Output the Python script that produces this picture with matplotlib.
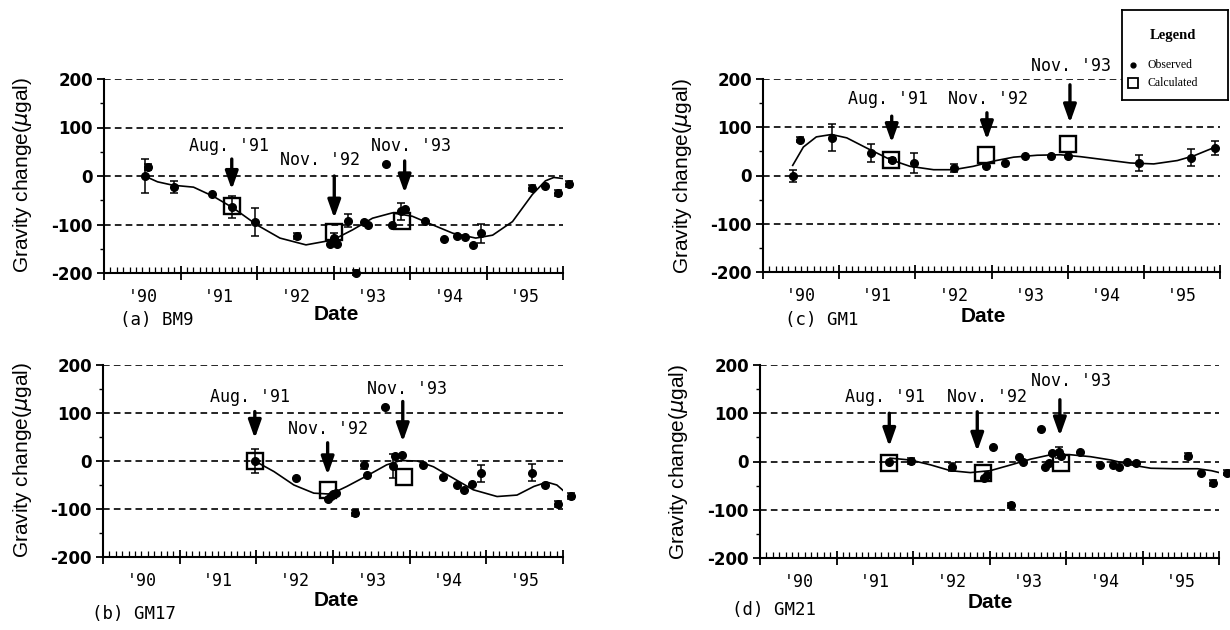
import numpy as np
import matplotlib
matplotlib.use("Agg")
import matplotlib.pyplot as plt
from matplotlib.ticker import MultipleLocator

plt.rcParams["axes.unicode_minus"] = False

W, H = 1230, 630

YEAR_STARTS = [1990, 1991, 1992, 1993, 1994, 1995]
YEAR_LABELS = ["'90", "'91", "'92", "'93", "'94", "'95"]
EVENT_LABELS = ["Aug. '91", "Nov. '92", "Nov. '93"]
Y_TICKS = [-200, -100, 0, 100, 200]
Y_TICK_LABELS = ["-200", "-100", "0", "100", "200"]

# (a) BM9
a_obs_x = [1990.53, 1990.58, 1990.91, 1991.41, 1991.67, 1991.98, 1992.52, 1992.95, 1993.00,
           1993.04, 1993.19, 1993.30, 1993.40, 1993.45, 1993.68, 1993.77, 1993.88, 1993.93,
           1994.20, 1994.45, 1994.62, 1994.72, 1994.82, 1994.93, 1995.60, 1995.77, 1995.93, 1996.08]
a_obs_y = [0, 19, -23, -38, -64, -95, -124, -140, -127, -140, -92, -199, -94, -100, 24, -100,
           -73, -69, -92, -130, -123, -126, -142, -118, -24, -21, -35, -17]
a_obs_err = [35, 6, 13, 0, 23, 28, 6, 0, 10, 0, 14, 5, 0, 0, 0, 0, 17, 0, 0, 0, 0, 0, 0, 20,
             6, 0, 6, 6]
a_calc_x = [1991.67, 1993.01, 1993.90]
a_calc_y = [-62, -115, -92]
a_fit_x = [1990.53, 1990.70, 1990.90, 1991.17, 1991.43, 1991.69, 1992.00, 1992.30, 1992.64,
           1992.99, 1993.25, 1993.51, 1993.77, 1994.03, 1994.30, 1994.56, 1994.86, 1995.08,
           1995.34, 1995.60, 1995.77, 1995.88, 1995.99]
a_fit_y = [0, -12, -19, -23, -42, -66, -101, -128, -142, -132, -111, -87, -76, -83, -101,
           -118, -128, -122, -94, -38, -10, -3, -5]
a_arrow_x = [1991.67, 1993.01, 1993.93]
a_arrow_top = [35, 0, 31]
a_arrow_tip = [-28, -87, -35]
a_text_x = [1991.64, 1992.82, 1994.01]
a_text_y = [62, 33, 62]

# (b) GM17
b_obs_x = [1991.98, 1992.52, 1992.93, 1992.97, 1993.00, 1993.04, 1993.29, 1993.40, 1993.44,
           1993.68, 1993.78, 1993.81, 1993.90, 1994.18, 1994.44, 1994.62, 1994.71, 1994.81,
           1994.93, 1995.60, 1995.77, 1995.94, 1996.10]
b_obs_y = [0, -35, -79, -72, -69, -66, -109, -8, -29, 112, -10, 10, 12, -8, -33, -50, -60, -47,
           -26, -24, -49, -90, -73]
b_obs_err = [26, 0, 0, 0, 0, 0, 6, 8, 0, 0, 25, 0, 0, 0, 0, 0, 0, 0, 18, 18, 0, 6, 6]
b_calc_x = [1991.98, 1992.93, 1993.92]
b_calc_y = [0, -60, -33]
b_fit_x = [1991.98, 1992.23, 1992.49, 1992.75, 1992.97, 1993.18, 1993.44, 1993.70, 1993.88,
           1994.10, 1994.31, 1994.57, 1994.83, 1995.14, 1995.40, 1995.62, 1995.79, 1995.92,
           1996.02]
b_fit_y = [0, -22, -50, -67, -69, -53, -31, -8, 1, 0, -12, -36, -60, -74, -71, -53, -44, -50,
           -64]
b_arrow_x = [1991.98, 1992.93, 1993.91]
b_arrow_top = [103, 38, 124]
b_arrow_tip = [47, -29, 40]
b_text_x = [1991.92, 1992.94, 1993.97]
b_text_y = [134, 66, 151]

# (c) GM1
c_obs_x = [1990.39, 1990.48, 1990.90, 1991.42, 1991.70, 1991.98, 1992.51, 1992.93, 1993.18,
           1993.44, 1993.78, 1994.01, 1994.93, 1995.62, 1995.93]
c_obs_y = [-1, 74, 78, 47, 32, 26, 16, 19, 26, 41, 40, 40, 26, 37, 57]
c_obs_err = [12, 5, 28, 19, 5, 20, 8, 0, 0, 0, 0, 0, 17, 17, 14]
c_calc_x = [1991.68, 1992.93, 1994.01]
c_calc_y = [32, 43, 66]
c_fit_x = [1990.39, 1990.53, 1990.70, 1990.90, 1991.10, 1991.36, 1991.67, 1991.93, 1992.24,
           1992.50, 1992.76, 1993.03, 1993.29, 1993.60, 1993.90, 1994.17, 1994.52, 1994.82,
           1995.13, 1995.44, 1995.66, 1995.83, 1995.94]
c_fit_y = [21, 59, 80, 85, 78, 57, 33, 19, 12, 12, 19, 30, 38, 42, 43, 39, 32, 26, 24, 31, 41,
           52, 59]
c_arrow_x = [1991.69, 1992.94, 1994.03]
c_arrow_top = [123, 130, 188]
c_arrow_tip = [68, 74, 109]
c_text_x = [1991.64, 1992.96, 1994.04]
c_text_y = [159, 159, 226]

# (d) GM21
d_obs_x = [1991.68, 1991.98, 1992.51, 1992.93, 1992.97, 1993.04, 1993.28, 1993.38, 1993.44,
           1993.67, 1993.73, 1993.78, 1993.82, 1993.91, 1993.94, 1994.18, 1994.45, 1994.61,
           1994.69, 1994.80, 1994.92, 1995.59, 1995.76, 1995.92, 1996.11]
d_obs_y = [-2, 1, -12, -34, -28, 30, -91, 10, -2, 67, -12, -3, 17, 19, 12, 19, -7, -7, -12, 0,
           -3, 12, -24, -45, -23]
d_obs_err = [0, 6, 8, 0, 0, 0, 6, 0, 0, 0, 0, 0, 0, 12, 0, 0, 0, 0, 0, 0, 0, 6, 0, 6, 6]
d_calc_x = [1991.68, 1992.91, 1993.93]
d_calc_y = [-3, -24, -3]
d_fit_x = [1991.70, 1991.97, 1992.23, 1992.49, 1992.75, 1993.01, 1993.28, 1993.54, 1993.80,
           1994.06, 1994.32, 1994.59, 1994.85, 1995.11, 1995.41, 1995.72, 1995.90, 1996.03]
d_fit_y = [7, 3, -7, -19, -23, -19, -7, 5, 14, 14, 10, 3, -7, -14, -15, -15, -19, -24]
d_arrow_x = [1991.69, 1992.84, 1993.92]
d_arrow_top = [100, 103, 128]
d_arrow_tip = [31, 21, 53]
d_text_x = [1991.64, 1992.97, 1994.06]
d_text_y = [134, 134, 166]


def fx(px):
    return px / W


def fy(py):
    return 1 - py / H


def draw_panel(ax, obs_x, obs_y, obs_err, calc_x, calc_y, fit_x, fit_y,
               arrow_x, arrow_top, arrow_tip, text_x, text_y):
    ax.set_xlim(1990, 1996)
    ax.set_ylim(-200, 200)

    for v in [200, 100, 0, -100]:
        ax.axhline(v, color="black", lw=1.2, ls=(0, (4, 2.5)), zorder=1)

    ax.plot(fit_x, fit_y, color="black", lw=1.2, zorder=3)

    ox = np.array(obs_x)
    oy = np.array(obs_y)
    oe = np.array(obs_err)
    m = oe > 0
    eb = ax.errorbar(ox[m], oy[m], yerr=oe[m], fmt="none", ecolor="black",
                     elinewidth=1.1, capsize=3, capthick=1.1, zorder=4)
    for art in eb.get_children():
        art.set_clip_on(False)
    ax.plot(ox, oy, "o", color="black", ms=5.5, zorder=5, clip_on=False)
    ax.plot(calc_x, calc_y, "s", mfc="none", mec="black", ms=11, mew=1.7, zorder=6)

    for x, yt, yp, tx, ty, lab in zip(arrow_x, arrow_top, arrow_tip, text_x, text_y, EVENT_LABELS):
        ax.annotate("", xy=(x, yp), xytext=(x, yt),
                    arrowprops=dict(arrowstyle="-|>,head_length=0.45,head_width=0.16",
                                    color="black", lw=2.4, mutation_scale=24,
                                    shrinkA=0, shrinkB=0), zorder=7)
        ax.text(tx, ty, lab, ha="center", va="center", fontsize=12,
                family="DejaVu Sans Mono", clip_on=False, zorder=7)

    for s in ["top", "right"]:
        ax.spines[s].set_visible(False)
    for s in ["left", "bottom"]:
        ax.spines[s].set_linewidth(1.5)

    ax.xaxis.set_major_locator(MultipleLocator(1))
    ax.xaxis.set_minor_locator(MultipleLocator(1 / 12))
    ax.tick_params(axis="x", which="major", direction="inout", length=10, width=1.3,
                   labelbottom=False)
    ax.tick_params(axis="x", which="minor", direction="in", length=4, width=0.9)

    ax.set_yticks(Y_TICKS)
    ax.set_yticklabels(Y_TICK_LABELS, fontweight="bold", fontsize=12, family="DejaVu Sans")
    ax.yaxis.set_minor_locator(MultipleLocator(50))
    ax.tick_params(axis="y", which="major", direction="out", length=5, width=1.3, pad=3)
    ax.tick_params(axis="y", which="minor", direction="out", length=3, width=1.0)

    trans = ax.get_xaxis_transform()
    for y0, lab in zip(YEAR_STARTS, YEAR_LABELS):
        ax.text(y0 + 0.5, -0.125, lab, transform=trans, ha="center", va="center",
                fontsize=12, family="DejaVu Sans Mono")


fig = plt.figure(figsize=(12.3, 6.3), dpi=100)

ax_a = fig.add_axes([fx(104), fy(273), fx(563) - fx(104), fy(79) - fy(273)])
ax_b = fig.add_axes([fx(103), fy(557), fx(563) - fx(103), fy(365) - fy(557)])
ax_c = fig.add_axes([fx(763), fy(272), fx(1220) - fx(763), fy(79) - fy(272)])
ax_d = fig.add_axes([fx(760), fy(558), fx(1219) - fx(760), fy(365) - fy(558)])

draw_panel(ax_a, a_obs_x, a_obs_y, a_obs_err, a_calc_x, a_calc_y, a_fit_x, a_fit_y,
           a_arrow_x, a_arrow_top, a_arrow_tip, a_text_x, a_text_y)
draw_panel(ax_b, b_obs_x, b_obs_y, b_obs_err, b_calc_x, b_calc_y, b_fit_x, b_fit_y,
           b_arrow_x, b_arrow_top, b_arrow_tip, b_text_x, b_text_y)
draw_panel(ax_c, c_obs_x, c_obs_y, c_obs_err, c_calc_x, c_calc_y, c_fit_x, c_fit_y,
           c_arrow_x, c_arrow_top, c_arrow_tip, c_text_x, c_text_y)
draw_panel(ax_d, d_obs_x, d_obs_y, d_obs_err, d_calc_x, d_calc_y, d_fit_x, d_fit_y,
           d_arrow_x, d_arrow_top, d_arrow_tip, d_text_x, d_text_y)

# axis titles / panel names
ylab = r"Gravity change($\mu$gal)"
for (x, y) in [(23, 175), (23, 460), (682, 176), (679, 462)]:
    fig.text(fx(x), fy(y), ylab, rotation=90, ha="center", va="center",
             fontsize=15, family="Liberation Sans")

for (x, y) in [(336, 314), (336, 600), (983, 316), (990, 602)]:
    fig.text(fx(x), fy(y), "Date", ha="center", va="center", fontsize=15,
             fontweight="bold", family="Liberation Sans")

for (x, y, t) in [(120, 320, "(a) BM9"), (92, 614, "(b) GM17"),
                  (785, 320, "(c) GM1"), (732, 610, "(d) GM21")]:
    fig.text(fx(x), fy(y), t, ha="left", va="center", fontsize=12.5,
             family="DejaVu Sans Mono")

# legend box
lg = fig.add_axes([fx(1122), fy(100), fx(1228) - fx(1122), fy(10) - fy(100)])
lg.set_xlim(0, 106)
lg.set_ylim(90, 0)
lg.set_xticks([])
lg.set_yticks([])
for s in lg.spines.values():
    s.set_linewidth(1.3)
lg.text(51, 25, "Legend", ha="center", va="center", fontsize=10.5, fontweight="bold",
        family="Liberation Serif")
lg.plot([11], [55], "o", color="black", ms=3.5)
lg.text(25, 55, "Observed", ha="left", va="center", fontsize=8.5, family="Liberation Serif")
lg.plot([11], [73], "s", mfc="none", mec="black", ms=7, mew=1.3)
lg.text(25, 73, "Calculated", ha="left", va="center", fontsize=8.5, family="Liberation Serif")

fig.savefig("out.png", dpi=100, facecolor="white")
